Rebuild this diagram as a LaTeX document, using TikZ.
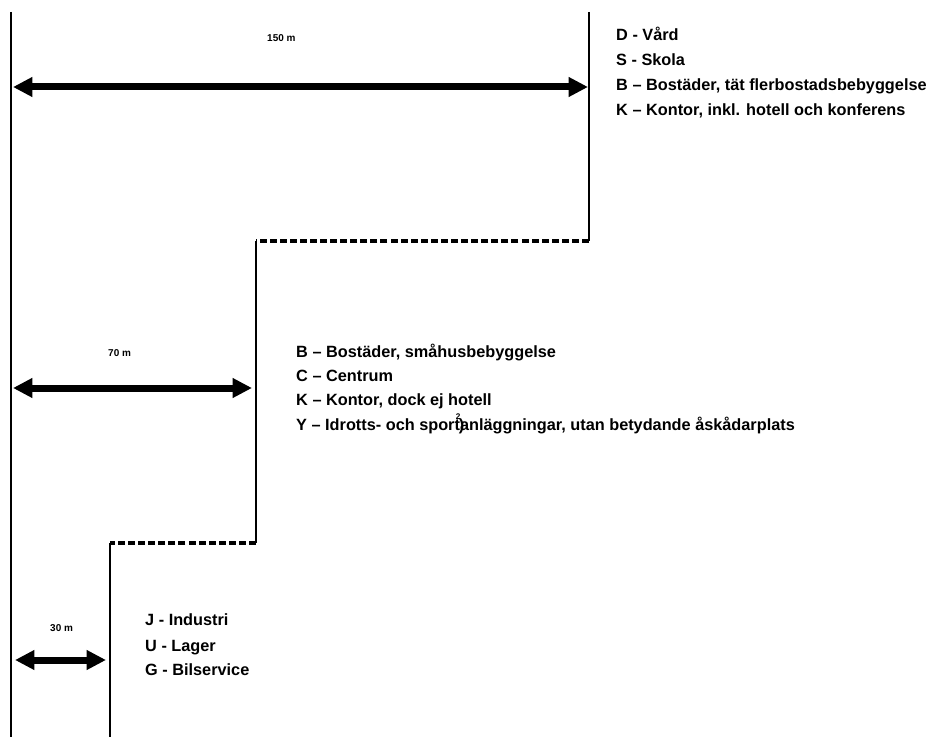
\documentclass[tikz,border=0pt]{standalone}
\usepackage{fontspec}
\setmainfont{Liberation Sans}
\usetikzlibrary{arrows.meta}
\begin{document}
\begin{tikzpicture}[x=0.03cm,y=-0.03cm,
    zone text/.style={anchor=base west,inner sep=0pt,font=\bfseries\fontsize{13.9}{16}\selectfont},
    dist text/.style={anchor=base west,inner sep=0pt,font=\bfseries\fontsize{8.5}{10}\selectfont},
    dist arrow/.style={line width=0.21cm,{Triangle[length=0.58cm,width=0.56cm]}-{Triangle[length=0.58cm,width=0.56cm]}},
    border/.style={line width=1.7pt},
    limit/.style={line width=2.8pt,dash pattern=on 6pt off 2.6pt}]
  \useasboundingbox (0,0) rectangle (930,737);

  \coordinate (base top) at (11,12);
  \coordinate (base bottom) at (11,737);
  \coordinate (z1 top) at (589,12);
  \coordinate (z1 corner) at (589,241);
  \coordinate (z2 top) at (256,241);
  \coordinate (z2 corner) at (256,543);
  \coordinate (z3 top) at (110,543);
  \coordinate (z3 bottom) at (110,737);

  \draw[line width=2.5pt] (base top) -- (base bottom);
  \draw[border] (z1 top) -- (z1 corner);
  \draw[limit] (z1 corner) -- (z2 top);
  \draw[border] (z2 top) -- (z2 corner);
  \draw[limit] (z2 corner) -- (z3 top);
  \draw[border] (z3 top) -- (z3 bottom);

  \coordinate (a150 west) at (13,87);
  \coordinate (a150 east) at (588,87);
  \coordinate (a70 west) at (13,388);
  \coordinate (a70 east) at (252,388);
  \coordinate (a30 west) at (15,660);
  \coordinate (a30 east) at (106,660);

  \path (a150 west) edge[dist arrow] (a150 east);
  \path (a70 west) edge[dist arrow] (a70 east);
  \path (a30 west) edge[dist arrow] (a30 east);

  \node[dist text] at (267,42) (l150) {150 m};
  \node[dist text] at (108,356) (l70) {70 m};
  \node[dist text] at (50,631) (l30) {30 m};

  \node[zone text] at (616,41) (d) {D - Vård};
  \node[zone text] at (616,66) (s) {S - Skola};
  \node[zone text] at (616,91) (b1) {B – Bostäder, tät flerbostadsbebyggelse};
  \node[zone text] at (616,116) (k1) {K – Kontor, inkl. hotell och konferens};

  \node[zone text] at (296,357) (b2) {B – Bostäder, småhusbebyggelse};
  \node[zone text] at (296,381) (c) {C – Centrum};
  \node[zone text] at (296,405) (k2) {K – Kontor, dock ej hotell};
  \node[zone text] at (296,430) (y) {Y – Idrotts- och sport\rlap{\kern-3.5pt\raisebox{9pt}{\fontsize{7}{7}\selectfont 2}}\rlap{\kern-1pt)}anläggningar, utan betydande åskådarplats};

  \node[zone text] at (145,625) (j) {J - Industri};
  \node[zone text] at (145,651) (u) {U - Lager};
  \node[zone text] at (145,675) (g) {G - Bilservice};
\end{tikzpicture}
\end{document}
